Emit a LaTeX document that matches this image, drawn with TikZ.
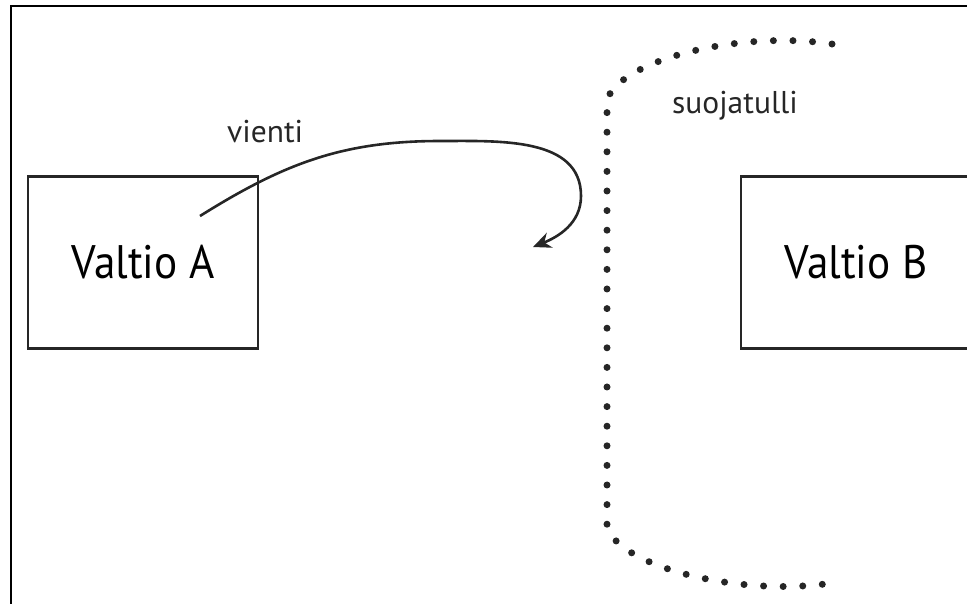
\documentclass[tikz,border=0pt]{standalone}
\usepackage{fontspec}
\setmainfont[FakeStretch=0.92]{PT Sans}
\newfontfamily\labelfont{PT Sans}
\usepackage{tikz}
\usetikzlibrary{positioning}
\usetikzlibrary{arrows.meta}

\begin{document}
\begin{tikzpicture}[x=1pt, y=-1pt, node distance=50pt,
    state/.style={draw=black!85, line width=2.6pt, minimum width=230pt, minimum height=172pt, inner sep=0pt, font=\fontsize{47}{50}\selectfont},
    label text/.style={anchor=base west, inner sep=0pt, font=\labelfont\fontsize{31.5}{34}\selectfont, text=black!85}]
\useasboundingbox (0,0) rectangle (967,603);
\clip (0,0) rectangle (967,603);
\draw [line width=2pt] (11,6) rectangle (1000,640);

\node (valtio A) [state] at (143,262.5) {Valtio A};
\node (valtio B) [state, node distance=713pt, right of=valtio A] {Valtio B};

\node (vienti) [label text] at (227,142) {vienti};
\node (suojatulli) [label text] at (672,113) {suojatulli};

% export goes over the wall and bounces back
\coordinate (export start) at (200,216);
\coordinate (export top) at (440,141);
\coordinate (export turn) at (581,196);
\coordinate (export end) at (533,247);
\draw [line width=2.6pt, black!85, -{Stealth[length=18pt, width=16pt]}] (export start) to[out=32, in=180] (export top) to[out=0, in=90] (export turn) to[out=-90, in=22] (export end);

% the tariff wall
\draw [line width=7pt, line cap=round, dash pattern=on 0pt off 19.6pt, black!85]
    (832,44) .. controls (740,30) and (620,60) .. (607,100) -- (607,527) .. controls (620,567) and (740,597) .. (832,583);

\end{tikzpicture}
\end{document}
